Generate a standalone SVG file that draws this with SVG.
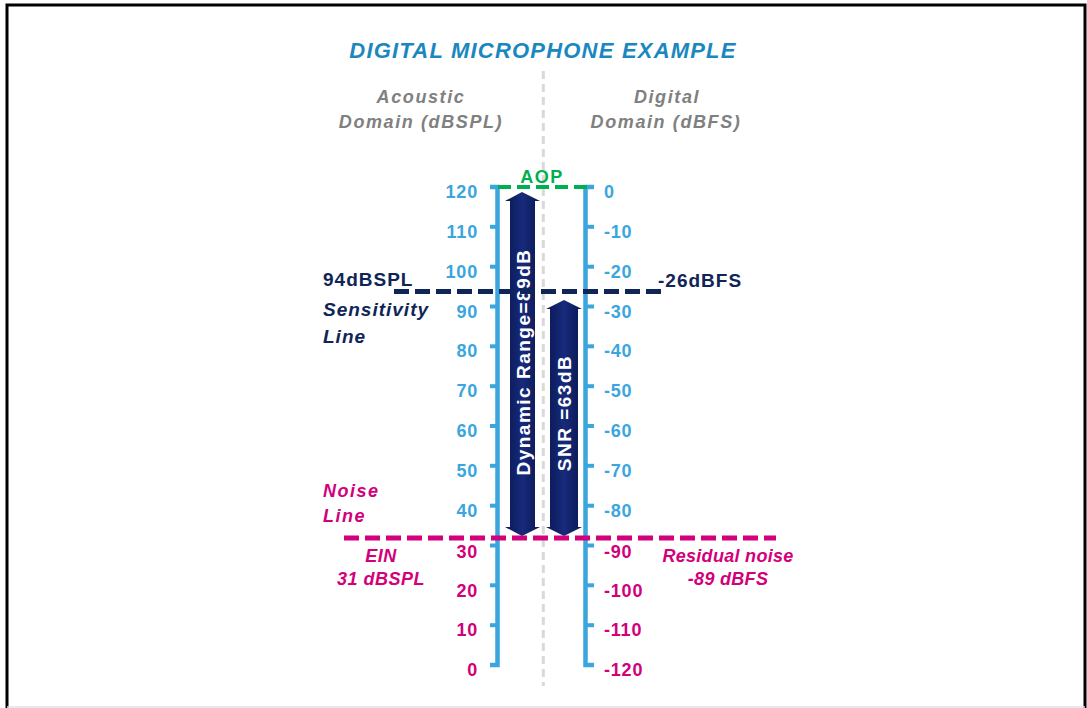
<svg xmlns="http://www.w3.org/2000/svg" width="1087" height="708" viewBox="0 0 1087 708">
<defs>
<style>
text{font-family:"Liberation Sans",Arial,sans-serif;font-weight:bold}
.it{font-style:italic}
.blue{fill:#3aa6dd}
.mag{fill:#d2007a}
.navy{fill:#0f2557}
.gray{fill:#808080}
.lbl{font-size:18px;letter-spacing:0.8px}
.lft{text-anchor:end}
.axis{stroke:#3aa6dd;stroke-width:4.5;fill:none}
.tick{fill:#3aa6dd}
.arrow{fill:url(#ag)}
.atext{fill:#ffffff;font-size:19px;letter-spacing:1.5px;text-anchor:middle;dominant-baseline:central}
</style>
<linearGradient id="ag" x1="0" y1="0" x2="1" y2="0">
<stop offset="0" stop-color="#0a1852"/>
<stop offset="0.5" stop-color="#172a7c"/>
<stop offset="1" stop-color="#0a1852"/>
</linearGradient>
</defs>
<rect width="1087" height="708" fill="#ffffff"/>
<path d="M7,712 V5 H1085 V712" fill="none" stroke="#000000" stroke-width="3"/>
<line x1="7" y1="707" x2="1085" y2="707" stroke="#e2e2e2" stroke-width="1.5"/>

<g id="title">
<text x="543" y="58" text-anchor="middle" class="it" font-size="22" letter-spacing="1.2" fill="#1a87bf">DIGITAL MICROPHONE EXAMPLE</text>
</g>
<g id="acoustic-header">
<text x="421" y="103" text-anchor="middle" class="it gray" font-size="18" letter-spacing="1.6">Acoustic</text>
<text x="421" y="128" text-anchor="middle" class="it gray" font-size="18" letter-spacing="1.6">Domain (dBSPL)</text>
</g>
<g id="digital-header">
<text x="667" y="103" text-anchor="middle" class="it gray" font-size="18" letter-spacing="1.6">Digital</text>
<text x="666" y="128" text-anchor="middle" class="it gray" font-size="18" letter-spacing="1.6">Domain (dBFS)</text>
</g>

<g id="center-divider">
<line x1="543.3" y1="71" x2="543.3" y2="686" stroke="#d9d9d9" stroke-width="3" stroke-dasharray="8,5"/>
</g>

<g id="left-axis">
<path class="axis" d="M490,187 H497.5 V665 H490"/>
<g class="tick">
<rect x="490" y="224.8" width="8" height="4"/>
<rect x="490" y="264.7" width="8" height="4"/>
<rect x="490" y="304.5" width="8" height="4"/>
<rect x="490" y="344.3" width="8" height="4"/>
<rect x="490" y="384.2" width="8" height="4"/>
<rect x="490" y="424" width="8" height="4"/>
<rect x="490" y="463.8" width="8" height="4"/>
<rect x="490" y="503.7" width="8" height="4"/>
<rect x="490" y="543.5" width="8" height="4"/>
<rect x="490" y="583.3" width="8" height="4"/>
<rect x="490" y="623.2" width="8" height="4"/>
</g>
<g class="lbl lft">
<text class="blue" x="478" y="198">120</text>
<text class="blue" x="478" y="237.8">110</text>
<text class="blue" x="478" y="277.7">100</text>
<text class="blue" x="478" y="317.5">90</text>
<text class="blue" x="478" y="357.3">80</text>
<text class="blue" x="478" y="397.2">70</text>
<text class="blue" x="478" y="437">60</text>
<text class="blue" x="478" y="476.8">50</text>
<text class="blue" x="478" y="516.7">40</text>
<text class="mag" x="478" y="558">30</text>
<text class="mag" x="478" y="597">20</text>
<text class="mag" x="478" y="636.2">10</text>
<text class="mag" x="478" y="676">0</text>
</g>
</g>

<g id="right-axis">
<path class="axis" d="M594,187 H585.5 V665 H594"/>
<g class="tick">
<rect x="586" y="224.8" width="8" height="4"/>
<rect x="586" y="264.7" width="8" height="4"/>
<rect x="586" y="304.5" width="8" height="4"/>
<rect x="586" y="344.3" width="8" height="4"/>
<rect x="586" y="384.2" width="8" height="4"/>
<rect x="586" y="424" width="8" height="4"/>
<rect x="586" y="463.8" width="8" height="4"/>
<rect x="586" y="503.7" width="8" height="4"/>
<rect x="586" y="543.5" width="8" height="4"/>
<rect x="586" y="583.3" width="8" height="4"/>
<rect x="586" y="623.2" width="8" height="4"/>
</g>
<g class="lbl">
<text class="blue" x="604" y="198">0</text>
<text class="blue" x="604" y="237.8">-10</text>
<text class="blue" x="604" y="277.7">-20</text>
<text class="blue" x="604" y="317.5">-30</text>
<text class="blue" x="604" y="357.3">-40</text>
<text class="blue" x="604" y="397.2">-50</text>
<text class="blue" x="604" y="437">-60</text>
<text class="blue" x="604" y="476.8">-70</text>
<text class="blue" x="604" y="516.7">-80</text>
<text class="mag" x="604" y="558">-90</text>
<text class="mag" x="604" y="597">-100</text>
<text class="mag" x="604" y="636.2">-110</text>
<text class="mag" x="604" y="676">-120</text>
</g>
</g>

<g id="dynamic-range">
<polygon class="arrow" points="522,192 540,201 535,201 535,527 540,527 522,536 505,527 510,527 510,201 505,201"/>
<text class="atext" transform="translate(523,362) rotate(-90)">Dynamic Range=89dB</text>
</g>
<g id="snr">
<polygon class="arrow" points="564,300 582,309 578,309 578,527 582,527 564,536 546,527 550,527 550,309 546,309"/>
<text class="atext" transform="translate(564,413) rotate(-90)">SNR =63dB</text>
</g>

<g id="connectors">
<line id="aop-line" x1="498" y1="187" x2="587" y2="187" stroke="#00b050" stroke-width="4" stroke-dasharray="13,6"/>
<line id="sensitivity-line" x1="394" y1="291.5" x2="666" y2="291.5" stroke="#0f2557" stroke-width="5" stroke-dasharray="15,6"/>
<line id="noise-line" x1="344" y1="538" x2="776" y2="538" stroke="#d2007a" stroke-width="5" stroke-dasharray="15,6"/>
</g>

<g id="aop-label">
<text x="542" y="183" text-anchor="middle" font-size="18" letter-spacing="1.5" fill="#00b050">AOP</text>
</g>
<g id="sensitivity-labels">
<text class="navy" x="323" y="286" font-size="19" letter-spacing="1">94dBSPL</text>
<text class="navy it" x="323" y="316" font-size="19" letter-spacing="1">Sensitivity</text>
<text class="navy it" x="323" y="343" font-size="19" letter-spacing="1">Line</text>
</g>
<g id="dbfs-label">
<text class="navy" x="658" y="287" font-size="19" letter-spacing="1">-26dBFS</text>
</g>
<g id="noise-labels">
<text class="mag it" x="323" y="497" font-size="18" letter-spacing="1.5">Noise</text>
<text class="mag it" x="323" y="522" font-size="18" letter-spacing="1.5">Line</text>
</g>
<g id="ein-label">
<text class="mag it" x="381" y="562" text-anchor="middle" font-size="18" letter-spacing="0.5">EIN</text>
<text class="mag it" x="381" y="585" text-anchor="middle" font-size="18" letter-spacing="0.5">31 dBSPL</text>
</g>
<g id="residual-label">
<text class="mag it" x="728" y="562" text-anchor="middle" font-size="18" letter-spacing="0.3">Residual noise</text>
<text class="mag it" x="728" y="585" text-anchor="middle" font-size="18" letter-spacing="0.3">-89 dBFS</text>
</g>
</svg>
